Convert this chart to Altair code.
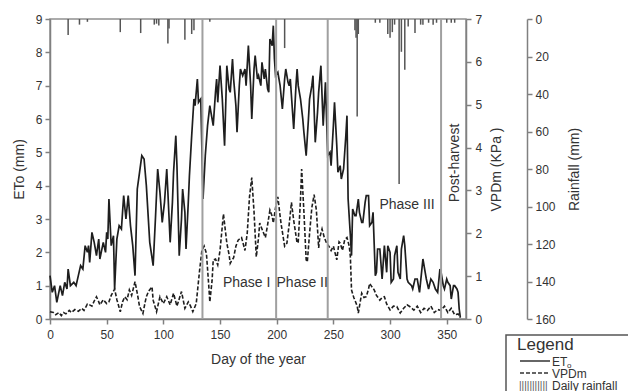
import altair as alt
import pandas as pd

# ---------------- data ----------------
eto_day = [0, 2, 4, 6, 9, 11, 13, 15, 16, 18, 21, 23, 25, 27, 29, 31, 33, 34, 35, 37, 39, 41, 43, 44, 47, 49,
           50, 51, 52, 54, 56, 57, 59, 61, 63, 65, 67, 69, 71, 73, 75, 77, 79, 81, 83, 85, 88, 91, 93, 95, 97,
           99, 101, 103, 104, 106, 108, 109, 111, 112, 114, 116, 117, 119, 120, 122, 123, 125, 127, 128, 130,
           131, 133, 135, 137, 139, 141, 142, 144, 146, 147, 148, 150, 152, 154, 156, 158, 159, 161, 162, 164,
           165, 167, 168, 170, 172, 173, 175, 177, 178, 180, 181, 183, 184, 186, 187, 189, 190, 192, 193, 194,
           196, 197, 198, 199, 201, 203, 205, 207, 208, 210, 211, 212, 214, 215, 217, 218, 219, 221, 223, 224,
           226, 228, 229, 231, 232, 234, 236, 237, 239, 241, 243, 245, 247, 248, 250, 251, 253, 254, 256, 257,
           259, 261, 262, 263, 265, 266, 267, 269, 270, 272, 273, 275, 276, 278, 279, 281, 282, 284, 285, 287,
           288, 289, 291, 293, 295, 297, 298, 300, 301, 303, 304, 306, 307, 309, 310, 312, 313, 315, 316, 319,
           320, 322, 324, 326, 329, 331, 332, 334, 336, 338, 340, 342, 344, 345, 347, 348, 350, 351, 353, 354,
           356, 357, 359, 360, 361, 362]
eto_val = [1.3, 0.8, 1.0, 0.5, 1.0, 0.7, 1.1, 0.9, 1.5, 1.0, 1.1, 1.0, 1.3, 1.6, 1.5, 2.2, 2.0, 2.2, 1.7, 2.6,
           2.3, 1.9, 2.4, 1.8, 2.3, 2.0, 2.6, 2.4, 3.6, 2.2, 2.5, 0.9, 2.4, 2.8, 2.7, 3.7, 3.0, 3.7, 2.8, 2.2,
           1.3, 3.9, 4.4, 4.9, 4.8, 4.0, 2.3, 1.6, 3.0, 4.5, 3.8, 2.9, 3.5, 4.5, 3.8, 2.3, 3.5, 4.4, 5.5, 4.6,
           1.9, 3.0, 3.9, 3.2, 2.1, 3.5, 4.3, 5.5, 6.6, 6.4, 7.2, 6.5, 6.6, 3.6, 4.9, 5.8, 6.4, 6.2, 5.8, 6.8,
           7.2, 6.5, 7.6, 6.6, 5.2, 7.6, 6.9, 6.8, 7.8, 7.2, 6.4, 5.6, 7.0, 7.5, 7.3, 7.5, 7.0, 8.2, 7.0, 6.0,
           7.5, 7.9, 7.2, 7.3, 7.0, 7.7, 7.2, 7.5, 6.9, 6.8, 8.4, 8.2, 8.8, 7.8, 7.3, 7.4, 7.0, 6.3, 7.2, 7.5,
           7.1, 7.0, 7.2, 6.2, 5.7, 7.0, 7.5, 7.0, 6.6, 6.0, 5.6, 4.9, 6.0, 6.6, 7.0, 7.3, 5.3, 6.2, 6.8, 7.6,
           5.8, 7.1, 4.9, 5.0, 4.6, 5.8, 6.5, 5.2, 4.4, 4.6, 4.2, 4.5, 5.5, 6.1, 3.6, 2.5, 1.9, 3.3, 3.1, 3.1,
           3.6, 3.2, 2.9, 2.9, 3.5, 3.7, 3.7, 2.8, 2.9, 3.2, 1.3, 1.4, 2.1, 2.1, 1.2, 2.2, 1.4, 2.2, 2.0, 1.1,
           1.2, 1.9, 2.2, 1.4, 1.2, 2.1, 2.5, 2.2, 1.2, 1.1, 1.0, 0.9, 1.2, 1.2, 0.8, 1.8, 1.4, 1.2, 0.9, 1.2,
           1.1, 0.9, 0.8, 1.5, 1.4, 1.0, 0.9, 1.2, 1.1, 1.0, 0.6, 1.0, 1.0, 0.9, 0.8, 0.3, 0.05]

vpd_day = [0, 3, 5, 8, 10, 12, 14, 17, 19, 22, 25, 28, 30, 33, 35, 37, 39, 41, 43, 44, 47, 50, 52, 54, 57, 59,
           62, 64, 66, 68, 70, 72, 75, 77, 79, 82, 84, 85, 87, 90, 91, 94, 97, 100, 103, 106, 109, 112, 116,
           119, 122, 124, 126, 129, 132, 134, 136, 138, 140, 141, 143, 144, 146, 148, 150, 153, 155, 156, 158,
           159, 160, 162, 164, 166, 169, 171, 172, 174, 176, 178, 180, 182, 184, 185, 187, 190, 192, 194, 196,
           197, 199, 201, 203, 204, 207, 209, 211, 213, 215, 218, 219, 221, 222, 224, 226, 227, 229, 231, 233,
           235, 237, 238, 240, 242, 244, 246, 248, 250, 253, 255, 256, 258, 260, 262, 264, 265, 266, 268, 269,
           271, 272, 274, 275, 277, 279, 281, 282, 284, 286, 288, 291, 293, 295, 297, 300, 303, 306, 309, 312,
           315, 318, 321, 324, 327, 330, 333, 336, 339, 342, 345, 348, 351, 354, 357, 360, 362]
vpd_val = [0.17, 0.15, 0.1, 0.15, 0.08, 0.15, 0.12, 0.2, 0.15, 0.22, 0.18, 0.25, 0.2, 0.35, 0.33, 0.3, 0.42,
           0.52, 0.4, 0.33, 0.45, 0.36, 0.4, 0.55, 0.7, 0.45, 0.17, 0.4, 0.52, 0.45, 0.68, 0.55, 0.87, 0.6,
           0.29, 0.13, 0.4, 0.52, 0.65, 0.75, 0.44, 0.17, 0.52, 0.36, 0.52, 0.33, 0.6, 0.3, 0.64, 0.25, 0.4,
           0.3, 0.17, 0.36, 1.14, 1.6, 1.7, 1.53, 0.8, 0.4, 0.9, 1.38, 1.4, 1.26, 1.6, 2.45, 2.0, 1.77, 1.5,
           1.3, 1.35, 1.43, 1.7, 1.84, 1.9, 1.7, 1.6, 2.0, 2.85, 3.3, 2.5, 1.45, 1.9, 2.24, 2.1, 1.9, 2.2,
           2.54, 2.4, 2.24, 2.6, 2.85, 2.4, 2.2, 1.7, 1.77, 2.2, 2.72, 2.3, 1.77, 1.8, 2.8, 3.5, 2.5, 1.38,
           1.33, 2.0, 2.6, 2.9, 2.54, 1.66, 1.9, 2.1, 1.9, 1.77, 1.7, 1.6, 1.7, 1.38, 1.8, 1.77, 1.6, 1.85,
           1.9, 1.7, 1.45, 0.68, 0.5, 0.44, 0.3, 0.14, 0.45, 0.6, 0.5, 0.52, 0.7, 0.83, 0.75, 0.68, 0.55,
           0.44, 0.5, 0.52, 0.35, 0.21, 0.3, 0.29, 0.14, 0.25, 0.33, 0.28, 0.21, 0.3, 0.15, 0.25, 0.2, 0.3,
           0.15, 0.22, 0.2, 0.3, 0.15, 0.25, 0.1, 0.12, 0.03]

rain_day = [16, 26, 33, 62, 80, 92, 94, 96, 104, 105, 119, 125, 127, 141, 207, 269, 270, 271, 272, 287, 291,
            298, 300, 302, 304, 308, 310, 313, 316, 322, 327, 329, 334, 338, 341, 350, 354, 357]
rain_mm = [8.5, 3, 1.5, 7, 7.5, 3, 2.5, 3.5, 13, 5, 11, 8, 6, 1.5, 15.5, 6, 10, 52, 8, 2, 2,
           8, 10, 7, 3, 88, 17.5, 27, 4, 7.5, 3, 3, 2, 3, 2, 2, 2, 2]

phase_day = [134.5, 199.5, 245, 345]

label_text = ["Phase I", "Phase II", "Phase III"]
label_day = [173.5, 222.5, 315]
label_eto = [1.08, 1.08, 3.42]

post_text = ["Post-harvest"]
post_day = [357]
post_eto = [4.68]

x_ticks = [0, 50, 100, 150, 200, 250, 300, 350]
eto_ticks = [0, 1, 2, 3, 4, 5, 6, 7, 8, 9]
vpd_ticks = [0, 1, 2, 3, 4, 5, 6, 7]
rain_ticks = [0, 20, 40, 60, 80, 100, 120, 140, 160]

# ---------------- tables ----------------
eto_df = pd.DataFrame({"day": eto_day, "eto": eto_val})
vpd_df = pd.DataFrame({"day": vpd_day, "vpd": vpd_val})
rain_df = pd.DataFrame({"day": rain_day, "rain": rain_mm, "zero": [0] * len(rain_day)})
phase_df = pd.DataFrame({"day": phase_day})
lab_df = pd.DataFrame({"day": label_day, "eto": label_eto, "t": label_text})
post_df = pd.DataFrame({"day": post_day, "eto": post_eto, "t": post_text})
one = pd.DataFrame({"a": [0]})

FONT = "Liberation Sans"
TXT = "#333333"

xscale = alt.Scale(domain=[0, 367], nice=False, zero=False)
xaxis = alt.Axis(values=x_ticks, title="Day of the year", tickSize=5, labelPadding=5,
                 titlePadding=12, labelFontSize=12, titleFontSize=14, titleFontWeight="normal",
                 labelFlush=False)
X = alt.X("day:Q", scale=xscale, axis=xaxis)
eto_scale = alt.Scale(domain=[0, 9], nice=False, zero=False)

rain = alt.Chart(rain_df).mark_rule(color="#555555", strokeWidth=1.5).encode(
    x=X,
    y=alt.Y("rain:Q", scale=alt.Scale(domain=[0, 160], reverse=True, nice=False),
            axis=alt.Axis(orient="right", offset=61, values=rain_ticks, title="Rainfall (mm)",
                          titleAngle=270, titleBaseline="top", tickSize=5, labelPadding=3,
                          titlePadding=12, labelFontSize=12, titleFontSize=14,
                          titleFontWeight="normal", labelFlush=False)),
    y2="zero:Q",
)

phases = alt.Chart(phase_df).mark_rule(color="#a0a0a0", strokeWidth=2).encode(x=X)

eto = alt.Chart(eto_df).mark_line(color="#1e1e1e", strokeWidth=1.7).encode(
    x=X,
    y=alt.Y("eto:Q", scale=eto_scale,
            axis=alt.Axis(orient="left", values=eto_ticks, title="ETo (mm)", tickSize=5,
                          labelPadding=3, titlePadding=9, labelFontSize=12, titleFontSize=14,
                          titleFontWeight="normal", labelFlush=False)),
)

vpd = alt.Chart(vpd_df).mark_line(color="#1e1e1e", strokeWidth=1.6, strokeDash=[4, 2]).encode(
    x=X,
    y=alt.Y("vpd:Q", scale=alt.Scale(domain=[0, 7], nice=False, zero=False),
            axis=alt.Axis(orient="right", values=vpd_ticks, title="VPDm (KPa )", titleAngle=270,
                          titleBaseline="top", tickSize=5, labelPadding=4, titlePadding=8,
                          labelFontSize=12, titleFontSize=14, titleFontWeight="normal",
                          labelFlush=False)),
)

labels = alt.Chart(lab_df).mark_text(font=FONT, fontSize=14, color=TXT).encode(
    x=X, y=alt.Y("eto:Q", scale=eto_scale, axis=None), text="t:N")

post = alt.Chart(post_df).mark_text(font=FONT, fontSize=14, color=TXT, angle=270).encode(
    x=X, y=alt.Y("eto:Q", scale=eto_scale, axis=None), text="t:N")

# ---------------- hand-made legend box (outside the plot area) ----------------
box = alt.Chart(one).mark_rect(fill="white", stroke="#555555", strokeWidth=1.5).encode(
    x=alt.value(456), x2=alt.value(600), y=alt.value(316), y2=alt.value(390))
leg_title = alt.Chart(one).mark_text(text="Legend", font=FONT, fontSize=17, color=TXT,
                                     align="left", baseline="alphabetic").encode(
    x=alt.value(467), y=alt.value(331))
leg_l1 = alt.Chart(one).mark_rule(color="#333333", strokeWidth=1.5).encode(
    x=alt.value(470), x2=alt.value(500), y=alt.value(342))
leg_l2 = alt.Chart(one).mark_rule(color="#333333", strokeWidth=1.5, strokeDash=[4, 2]).encode(
    x=alt.value(470), x2=alt.value(500), y=alt.value(354))
leg_r = alt.Chart(one).mark_text(text="|||||||||||", font=FONT, fontSize=10, color="#555555",
                                 align="left", baseline="alphabetic").encode(
    x=alt.value(469), y=alt.value(370))
leg_t1 = alt.Chart(one).mark_text(text="ET", font=FONT, fontSize=12, color=TXT, align="left",
                                  baseline="alphabetic").encode(x=alt.value(502), y=alt.value(347))
leg_t1b = alt.Chart(one).mark_text(text="o", font=FONT, fontSize=8, color=TXT, align="left",
                                   baseline="alphabetic").encode(x=alt.value(517), y=alt.value(349))
leg_t2 = alt.Chart(one).mark_text(text="VPDm", font=FONT, fontSize=12, color=TXT, align="left",
                                  baseline="alphabetic").encode(x=alt.value(502), y=alt.value(359))
leg_t3 = alt.Chart(one).mark_text(text="Daily rainfall", font=FONT, fontSize=12, color=TXT,
                                  align="left", baseline="alphabetic").encode(
    x=alt.value(502), y=alt.value(371))

chart = alt.layer(
    rain, eto, vpd, phases, labels, post,
    box, leg_title, leg_l1, leg_l2, leg_r, leg_t1, leg_t1b, leg_t2, leg_t3,
).resolve_scale(y="independent").properties(
    width=416, height=300,
    padding={"left": 50, "top": 19, "right": 162, "bottom": 72},
    autosize=alt.AutoSizeParams(type="none"),
).configure_axis(
    grid=False, labelFont=FONT, titleFont=FONT, labelColor=TXT, titleColor=TXT,
    domainColor="#808080", tickColor="#808080", domainWidth=1.5, tickWidth=1.5,
).configure_view(stroke="#909090", strokeWidth=1.5)

chart.save("out.html", embed_options={"renderer": "svg", "actions": False})
